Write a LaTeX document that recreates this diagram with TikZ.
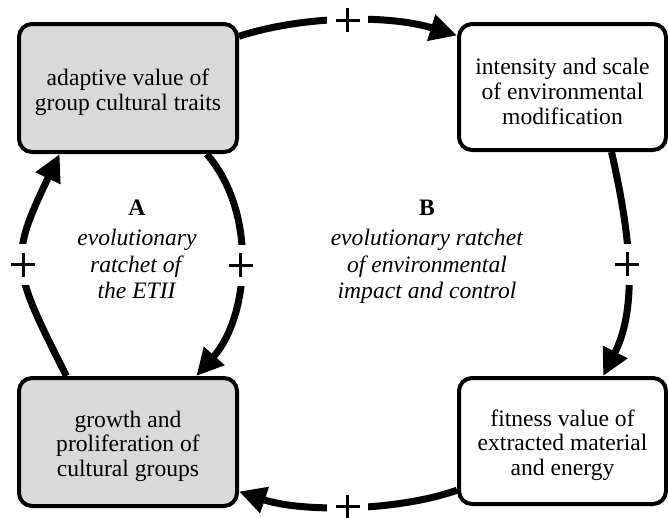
\documentclass[tikz,border=0pt]{standalone}
\usepackage{fontspec}
\setmainfont{Liberation Serif}
\usetikzlibrary{arrows.meta}
\newcommand{\boxstrut}{\rule{0pt}{25pt}}
\begin{document}
\begin{tikzpicture}[x=1pt,y=-1pt,
  box/.style={draw=black, line width=4pt, rounded corners=13pt, align=center, inner sep=0pt,
    font=\fontsize{23.6pt}{24.7pt}\selectfont},
  leftbox/.style={box, fill=gray!30, minimum width=218pt, minimum height=128pt},
  rightbox/.style={box, fill=white, minimum width=207pt, minimum height=126pt},
  link/.style={line width=7pt, -{Triangle[length=27pt,width=26pt]}},
  plus/.style={fill=white, inner sep=0pt, minimum size=41pt,
    path picture={\draw[-, line width=3pt]
      ([xshift=-12pt]path picture bounding box.center) -- ([xshift=12pt]path picture bounding box.center)
      ([yshift=-12pt]path picture bounding box.center) -- ([yshift=12pt]path picture bounding box.center);}},
  looptext/.style={align=center, inner sep=0pt, anchor=north,
    font=\fontsize{23.6pt}{26.5pt}\selectfont}
]
\useasboundingbox (0,0) rectangle (668,517);

\node[leftbox]  (tl) at (128,88)    {\boxstrut adaptive value of\\group cultural traits};
\node[rightbox] (tr) at (562.5,87)  {\boxstrut intensity and scale\\of environmental\\modification};
\node[leftbox]  (bl) at (128,442)   {\boxstrut growth and\\proliferation of\\cultural groups};
\node[rightbox] (br) at (562.5,441) {\boxstrut fitness value of\\extracted material\\and energy};

\draw[link] (tl.25)  .. controls (305,15)  and (390,15)  .. (tr.154) node[plus,pos=0.5] (p1) {};
\draw[link] (tr.-53) .. controls (628,225) and (640,303) .. (br.58)  node[plus,pos=0.5] (p2) {};
\draw[link] (br.205) .. controls (395,512) and (300,512) .. (bl.-24) node[plus,pos=0.5] (p3) {};
\draw[link] (bl.133) .. controls (12,268)  and (8,261)   .. (tl.224) node[plus,pos=0.5] (p4) {};
\draw[link] (tl.-40) .. controls (258,213) and (249,317) .. (bl.44)  node[plus,pos=0.5] (p5) {};

\node[looptext] (ta) at (137,200) {\textbf{A}\\[3.5pt]\textit{evolutionary}\\\textit{ratchet of}\\\textit{the ETII}};
\node[looptext] (tb) at (427,200) {\textbf{B}\\[3.5pt]\textit{evolutionary ratchet}\\\textit{of environmental}\\\textit{impact and control}};
\end{tikzpicture}
\end{document}
